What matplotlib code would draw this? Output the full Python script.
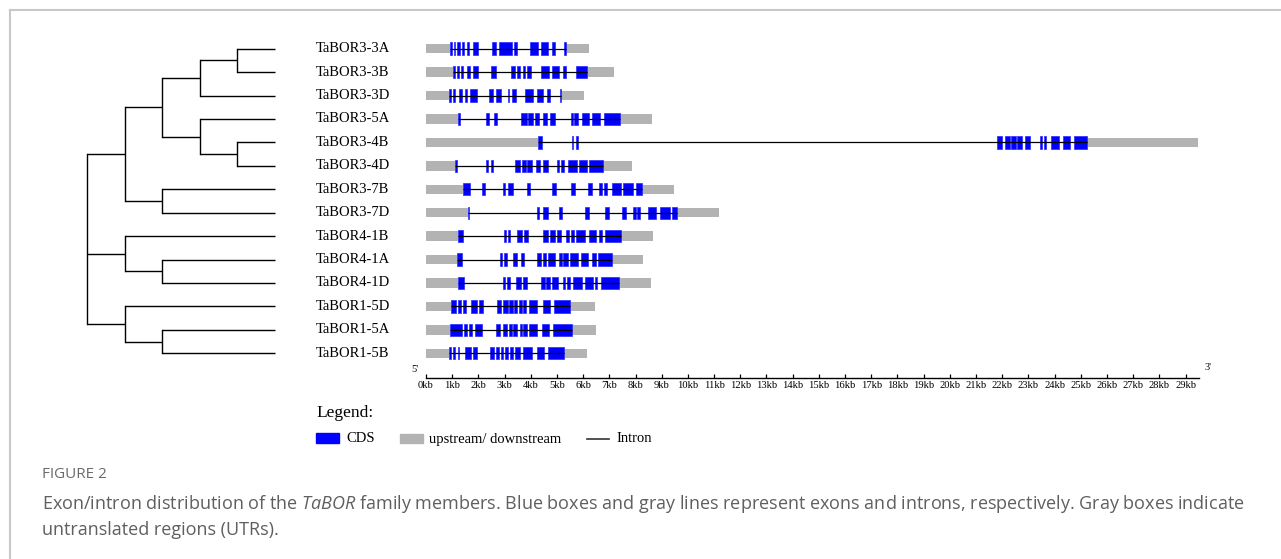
import matplotlib
matplotlib.use("Agg")
import matplotlib.pyplot as plt
import matplotlib.transforms as mtransforms
from matplotlib.patches import Rectangle
from matplotlib.lines import Line2D

plt.rcParams['mathtext.fontset'] = 'custom'
plt.rcParams['mathtext.rm'] = 'Open Sans'
plt.rcParams['mathtext.it'] = 'Open Sans:italic'

# gene names, top to bottom
genes = ['TaBOR3-3A', 'TaBOR3-3B', 'TaBOR3-3D', 'TaBOR3-5A', 'TaBOR3-4B',
         'TaBOR3-4D', 'TaBOR3-7B', 'TaBOR3-7D', 'TaBOR4-1B', 'TaBOR4-1A',
         'TaBOR4-1D', 'TaBOR1-5D', 'TaBOR1-5A', 'TaBOR1-5B']

# total gene length (kb)
gene_len = [6.23, 7.18, 6.04, 8.64, 29.49, 7.86, 9.48, 11.20, 8.65, 8.27,
            8.58, 6.46, 6.48, 6.13]

# CDS segments (start, end) in kb
cds_3_3A = [(0.92, 0.99), (1.06, 1.12), (1.20, 1.28), (1.38, 1.47), (1.57, 1.66),
            (1.80, 2.00), (2.51, 2.67), (2.80, 3.27), (3.37, 3.46), (3.97, 4.29),
            (4.41, 4.67), (4.83, 4.92), (5.28, 5.33)]
cds_3_3B = [(1.02, 1.09), (1.17, 1.25), (1.32, 1.42), (1.55, 1.68), (1.81, 2.00),
            (2.49, 2.67), (3.23, 3.38), (3.46, 3.59), (3.69, 3.77), (3.87, 4.02),
            (4.38, 4.71), (4.83, 5.09), (5.22, 5.34), (5.73, 6.16)]
cds_3_3D = [(0.89, 0.97), (1.04, 1.12), (1.27, 1.37), (1.49, 1.58), (1.68, 1.93),
            (2.42, 2.57), (2.67, 2.86), (3.12, 3.18), (3.28, 3.44), (3.78, 4.10),
            (4.25, 4.48), (4.61, 4.73), (5.11, 5.17)]
cds_3_5A = [(1.23, 1.28), (2.29, 2.39), (2.60, 2.70), (3.64, 3.84), (3.88, 4.07),
            (4.16, 4.33), (4.45, 4.63), (4.73, 4.92), (5.52, 5.60), (5.66, 5.79),
            (5.97, 6.23), (6.35, 6.64), (6.79, 7.40)]
cds_3_4B = [(4.26, 4.43), (5.56, 5.63), (5.71, 5.79), (21.81, 22.01), (22.10, 22.29),
            (22.33, 22.52), (22.58, 22.77), (22.88, 23.07), (23.44, 23.51),
            (23.59, 23.69), (23.87, 24.17), (24.33, 24.58), (24.73, 25.22)]
cds_3_4D = [(1.12, 1.20), (2.29, 2.38), (2.48, 2.57), (3.40, 3.59), (3.65, 3.82),
            (3.87, 4.03), (4.19, 4.35), (4.48, 4.64), (4.99, 5.08), (5.15, 5.27),
            (5.42, 5.78), (5.85, 6.13), (6.22, 6.74)]
cds_3_7B = [(1.42, 1.68), (2.12, 2.25), (2.93, 3.03), (3.13, 3.33), (3.84, 3.97),
            (4.80, 4.96), (5.53, 5.69), (6.17, 6.35), (6.62, 6.72), (6.81, 6.90),
            (7.11, 7.43), (7.54, 7.91), (8.00, 8.26)]
cds_3_7D = [(1.62, 1.65), (4.25, 4.31), (4.45, 4.64), (5.06, 5.20), (6.08, 6.23),
            (6.82, 6.97), (7.47, 7.62), (7.91, 8.02), (8.07, 8.19), (8.49, 8.80),
            (8.93, 9.31), (9.38, 9.59)]
cds_4_1B = [(1.23, 1.42), (2.98, 3.05), (3.13, 3.22), (3.46, 3.65), (3.75, 3.88),
            (4.48, 4.67), (4.73, 4.91), (4.99, 5.17), (5.34, 5.45), (5.52, 5.64),
            (5.73, 6.08), (6.22, 6.49), (6.59, 6.72), (6.83, 7.43)]
cds_4_1A = [(1.17, 1.36), (2.82, 2.91), (2.99, 3.08), (3.31, 3.49), (3.61, 3.75),
            (4.25, 4.41), (4.45, 4.58), (4.66, 4.92), (5.09, 5.18), (5.24, 5.41),
            (5.50, 5.81), (5.92, 6.20), (6.32, 6.51), (6.58, 7.11)]
cds_4_1D = [(1.21, 1.46), (2.93, 3.03), (3.10, 3.21), (3.44, 3.61), (3.72, 3.87),
            (4.38, 4.54), (4.58, 4.73), (4.81, 5.04), (5.22, 5.31), (5.37, 5.50),
            (5.60, 5.94), (6.08, 6.36), (6.44, 6.54), (6.70, 7.37)]
cds_1_5D = [(0.95, 1.13), (1.21, 1.32), (1.40, 1.51), (1.73, 1.93), (2.04, 2.19),
            (2.70, 2.85), (2.95, 3.14), (3.18, 3.33), (3.37, 3.49), (3.55, 3.66),
            (3.72, 3.82), (3.94, 4.25), (4.48, 4.73), (4.89, 5.50)]
cds_1_5A = [(0.92, 1.36), (1.45, 1.58), (1.65, 1.77), (1.87, 2.12), (2.67, 2.82),
            (2.95, 3.10), (3.17, 3.27), (3.33, 3.49), (3.59, 3.68), (3.72, 3.84),
            (3.92, 4.22), (4.44, 4.69), (4.86, 5.57)]
cds_1_5B = [(0.87, 0.95), (1.02, 1.12), (1.21, 1.27), (1.49, 1.70), (1.78, 1.93),
            (2.44, 2.60), (2.67, 2.79), (2.85, 2.95), (3.02, 3.12), (3.21, 3.33),
            (3.41, 3.59), (3.72, 4.05), (4.22, 4.50), (4.66, 5.27)]

cds = [cds_3_3A, cds_3_3B, cds_3_3D, cds_3_5A, cds_3_4B, cds_3_4D, cds_3_7B,
       cds_3_7D, cds_4_1B, cds_4_1A, cds_4_1D, cds_1_5D, cds_1_5A, cds_1_5B]

# tree topology, leaves are row indices
tree = ((((0, 1), 2), (3, (4, 5))), (6, 7)), (8, (9, 10)), (11, (12, 13))

ticks_kb = list(range(0, 30))
tick_labels = [f'{t}kb' for t in ticks_kb]

W, H = 1281, 559
fig = plt.figure(figsize=(W / 100, H / 100), dpi=100)


def px_box(x0, y0, x1, y1):
    return [x0 / W, 1 - y1 / H, (x1 - x0) / W, (y1 - y0) / H]


row0, row_step = 48.7, 23.43
ytop, ybot = 30, 400
ylim = ((ybot - row0) / row_step, (ytop - row0) / row_step)

serif = 'Liberation Serif'
blue = '#0000ff'
grey = '#b3b3b3'

# gene structures
ax = fig.add_axes(px_box(426, ytop, 1198.6, ybot))
ax.set_xlim(0, 29.5)
ax.set_ylim(*ylim)
ax.patch.set_alpha(0)
for s in ['top', 'left', 'right']:
    ax.spines[s].set_visible(False)
ax.spines['bottom'].set_position(('data', (377.7 - row0) / row_step))
ax.spines['bottom'].set_linewidth(1.0)
ax.set_yticks([])
ax.set_xticks(ticks_kb)
ax.set_xticklabels(tick_labels, fontfamily=serif, fontsize=7.6)
ax.tick_params(axis='x', direction='in', length=3.2, width=0.9, pad=2.5)

gh, bh = 0.40, 0.53
for i, (L, segs) in enumerate(zip(gene_len, cds)):
    first, last = segs[0][0], segs[-1][1]
    ax.broken_barh([(0, first), (last, L - last)], (i - gh / 2, gh),
                   facecolors=grey, edgecolors='none')
    ax.hlines(i, first, last, color='black', lw=0.9)
    ax.broken_barh([(a, b - a) for a, b in segs], (i - bh / 2, bh),
                   facecolors=blue, edgecolors='#2a2aff', linewidth=0.5)

lab_tr = mtransforms.blended_transform_factory(fig.transFigure, ax.transData)
for i, g in enumerate(genes):
    ax.text(316 / W, i, g, transform=lab_tr, fontfamily=serif, fontsize=10.5,
            va='center', ha='left', clip_on=False)

fig.text(415 / W, 1 - 369 / H, "5'", fontfamily=serif, fontsize=7.5, ha='center', va='center')
fig.text(1208 / W, 1 - 368 / H, "3'", fontfamily=serif, fontsize=7.5, ha='center', va='center')

# cladogram, x = node depth
tax = fig.add_axes(px_box(50, ytop, 285, ybot))
tax.set_xlim((50 - 87) / 37.6, (285 - 87) / 37.6)
tax.set_ylim(*ylim)
tax.axis('off')
tip_x = 5


def node_y(node):
    if isinstance(node, int):
        return node
    ys = [node_y(c) for c in node]
    return (min(ys) + max(ys)) / 2


def draw_tree(node, depth):
    if isinstance(node, int):
        return
    ys = [node_y(c) for c in node]
    for c, y in zip(node, ys):
        cx = tip_x if isinstance(c, int) else depth + 1
        tax.plot([depth, cx], [y, y], color='black', lw=1.0, solid_capstyle='butt')
        draw_tree(c, depth + 1)
    tax.plot([depth, depth], [min(ys), max(ys)], color='black', lw=1.0,
             solid_capstyle='projecting')


draw_tree(tree, 0)

# legend
fig.text(316 / W, 1 - 413 / H, 'Legend:', fontfamily=serif, fontsize=12.5, va='center')
fig.add_artist(Rectangle((316 / W, 1 - 443 / H), 23 / W, 10 / H, color=blue,
                         transform=fig.transFigure))
fig.text(346 / W, 1 - 439 / H, 'CDS', fontfamily=serif, fontsize=10.5, va='center')
fig.add_artist(Rectangle((400 / W, 1 - 443 / H), 23 / W, 9 / H, color=grey,
                         transform=fig.transFigure))
fig.text(429 / W, 1 - 439 / H, 'upstream/ downstream', fontfamily=serif,
         fontsize=10.5, va='center')
fig.add_artist(Line2D([587 / W, 609 / W], [1 - 438.5 / H] * 2, color='#333333',
                      lw=1.2, transform=fig.transFigure))
fig.text(616 / W, 1 - 439 / H, 'Intron', fontfamily=serif, fontsize=10.5, va='center')

# frame lines
fig.add_artist(Line2D([10 / W, 1], [1 - 10 / H] * 2, color='#c8c8c8', lw=1.5,
                      transform=fig.transFigure))
fig.add_artist(Line2D([10 / W] * 2, [0, 1 - 10 / H], color='#c8c8c8', lw=1.5,
                      transform=fig.transFigure))

# caption
fig.text(42 / W, 1 - 474 / H, 'FIGURE 2', fontfamily='Open Sans', fontsize=11,
         color='#6a6a6a', va='center')
fig.text(42 / W, 1 - 504 / H,
         r'Exon/intron distribution of the $\mathit{TaBOR}$ family members. Blue boxes and '
         'gray lines represent exons and introns, respectively. Gray boxes indicate',
         fontfamily='Open Sans', fontsize=13, color='#5f5f5f', va='center')
fig.text(42 / W, 1 - 530 / H, 'untranslated regions (UTRs).', fontfamily='Open Sans',
         fontsize=13, color='#5f5f5f', va='center')

fig.savefig('out.png', dpi=100)
